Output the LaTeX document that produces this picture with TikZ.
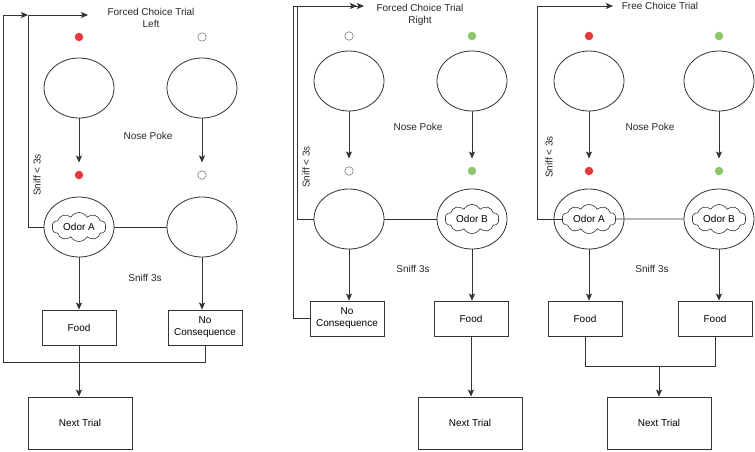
\documentclass[tikz,border=0pt]{standalone}
\usepackage{fontspec}
\setmainfont{Liberation Sans}
\usetikzlibrary{arrows.meta,shapes.geometric,shapes.symbols}
\definecolor{dotred}{HTML}{E5393C}
\definecolor{dotgreen}{HTML}{8CC66A}
\definecolor{ln}{HTML}{333333}
\tikzset{
  lbl/.style={font=\fontsize{10}{12}\selectfont, text=black!85, inner sep=0pt, align=center},
  ell/.style={draw=ln, line width=0.8pt, ellipse, minimum width=70pt, minimum height=60pt, inner sep=0pt},
  odor/.style={draw=ln, line width=0.6pt, cloud, cloud puffs=10, cloud puff arc=120, cloud ignores aspect, minimum width=54pt, minimum height=29pt, inner sep=0pt, fill=white, font=\fontsize{10}{12}\selectfont},
  dotn/.style={circle, minimum size=8.5pt, inner sep=0pt},
  reddot/.style={dotn, fill=dotred},
  greendot/.style={dotn, fill=dotgreen},
  emptydot/.style={dotn, draw=black!60, line width=0.5pt, fill=white},
  box/.style={draw=ln, line width=0.8pt, minimum width=74pt, minimum height=35pt, inner sep=1pt, align=center, font=\fontsize{10}{12}\selectfont},
  nextbox/.style={draw=ln, line width=0.8pt, minimum width=104pt, minimum height=52pt, inner sep=1pt, font=\fontsize{10}{12}\selectfont},
  conn/.style={draw=ln, line width=0.8pt},
  arr/.style={conn, -{Stealth[length=7pt,width=6pt,inset=1.5pt]}},
}
\begin{document}
\begin{tikzpicture}[x=1pt,y=-1pt]
\useasboundingbox (0,0) rectangle (755,451);

% ---------------- Panel 1 ----------------
\node[lbl] (p1title) at (151,18) {Forced Choice Trial\\Left};
\node[reddot] (p1d1) at (79,37) {};
\node[emptydot] (p1d2) at (202,37) {};
\node[ell] (p1e1) at (79,88) {};
\node[ell] (p1e2) at (202,88) {};
\node[reddot] (p1d3) at (79,175) {};
\node[emptydot] (p1d4) at (202,175) {};
\node[lbl] (p1np) at (148,136) {Nose Poke};
\node[lbl, rotate=90] (p1sl) at (37,175) {Sniff < 3s};
\node[box] (p1food) at (79,327.5) {Food};
\node[box] (p1nc) at (205,327.5) {No\\Consequence};
\node[nextbox] (p1next) at (80,423) {Next Trial};
\node[lbl] (p1s3) at (145,278) {Sniff 3s};
\coordinate (p1c) at (28,15);
\coordinate (p1t) at (88,15);
\coordinate (p1o) at (3,362);
\node[ell] (p1e3) at (79,227) {};
\node[ell] (p1e4) at (202,227) {};
\node[odor] (p1cl) at (79,227) {Odor A};

\draw[arr] (p1e1.south) -- ([yshift=8pt]p1d3.north);
\draw[arr] (p1e2.south) -- ([yshift=8pt]p1d4.north);
\draw[conn] (p1e3.east) -- (p1e4.west);
\draw[arr] (p1e3.south) -- (p1food.north);
\draw[arr] (p1e4.south) -- (p1e4.south |- p1nc.north);
\draw[arr] (p1e3.west) -| (p1c) -- (p1t);
\draw[arr] (p1nc.south) |- (p1o) |- (p1c);
\draw[arr] (p1food.south) -- (p1next.north -| p1food.south);

% ---------------- Panel 2 ----------------
\node[lbl] (p2title) at (420,14.5) {Forced Choice Trial\\Right};
\node[emptydot] (p2d1) at (349,36) {};
\node[greendot] (p2d2) at (472,36) {};
\node[ell] (p2e1) at (349,81) {};
\node[ell] (p2e2) at (472,81) {};
\node[emptydot] (p2d3) at (349,171) {};
\node[greendot] (p2d4) at (472,171) {};
\node[lbl] (p2np) at (418,127) {Nose Poke};
\node[lbl, rotate=90] (p2sl) at (306,167) {Sniff < 3s};
\node[ell] (p2e3) at (349,219) {};
\node[ell] (p2e4) at (472,219) {};
\node[odor] (p2cl) at (472,219) {Odor B};
\node[lbl] (p2s3) at (413,269) {Sniff 3s};
\node[box] (p2nc) at (347,318.5) {No\\Consequence};
\node[box] (p2food) at (471,318.5) {Food};
\node[nextbox] (p2next) at (470,423) {Next Trial};
\coordinate (p2a) at (297,6);
\coordinate (p2b) at (293,6);
\coordinate (p2t1) at (357,6);
\coordinate (p2t2) at (364,6);

\draw[arr] (p2e1.south) -- ([yshift=8pt]p2d3.north);
\draw[arr] (p2e2.south) -- ([yshift=8pt]p2d4.north);
\draw[conn] (p2e3.east) -- (p2e4.west);
\draw[arr] (p2e3.south) -- (p2e3.south |- p2nc.north);
\draw[arr] (p2e4.south) -- (p2e4.south |- p2food.north);
\draw[arr] (p2e3.west) -| (p2a) -- (p2t2);
\draw[arr] (p2nc.west) -| (p2b) -- (p2t1);
\draw[arr] (p2food.south) -- (p2next.north -| p2food.south);

% ---------------- Panel 3 ----------------
\node[lbl] (p3title) at (660,6) {Free Choice Trial};
\node[reddot] (p3d1) at (589,36) {};
\node[greendot] (p3d2) at (719,36) {};
\node[ell] (p3e1) at (589,81) {};
\node[ell] (p3e2) at (719,81) {};
\node[reddot] (p3d3) at (589,171) {};
\node[greendot] (p3d4) at (719,171) {};
\node[lbl] (p3np) at (650,127) {Nose Poke};
\node[lbl, rotate=90] (p3sl) at (549,157) {Sniff < 3s};
\node[lbl] (p3s3) at (652,269) {Sniff 3s};
\node[box] (p3f1) at (585,318.5) {Food};
\node[box] (p3f2) at (715,318.5) {Food};
\node[nextbox] (p3next) at (659,423) {Next Trial};
\coordinate (p3c) at (537,6);
\coordinate (p3t) at (613,6);
\coordinate (p3j) at (659,366);
\node[ell] (p3e3) at (589,219) {};
\node[ell] (p3e4) at (719,219) {};
\node[odor] (p3c1) at (589,219) {Odor A};
\node[odor] (p3c2) at (719,219) {Odor B};

\draw[arr] (p3c1.west) -| (p3c) -- (p3t);
\draw[conn] (p3c1.east) -- (p3e4.west);
\draw[arr] (p3e1.south) -- ([yshift=8pt]p3d3.north);
\draw[arr] (p3e2.south) -- ([yshift=8pt]p3d4.north);
\draw[arr] (p3e3.south) -- (p3e3.south |- p3f1.north);
\draw[arr] (p3e4.south) -- (p3e4.south |- p3f2.north);
\draw[conn] (p3f1.south) |- (p3j);
\draw[conn] (p3f2.south) |- (p3j);
\draw[arr] (p3j) -- (p3next.north);
\end{tikzpicture}
\end{document}
